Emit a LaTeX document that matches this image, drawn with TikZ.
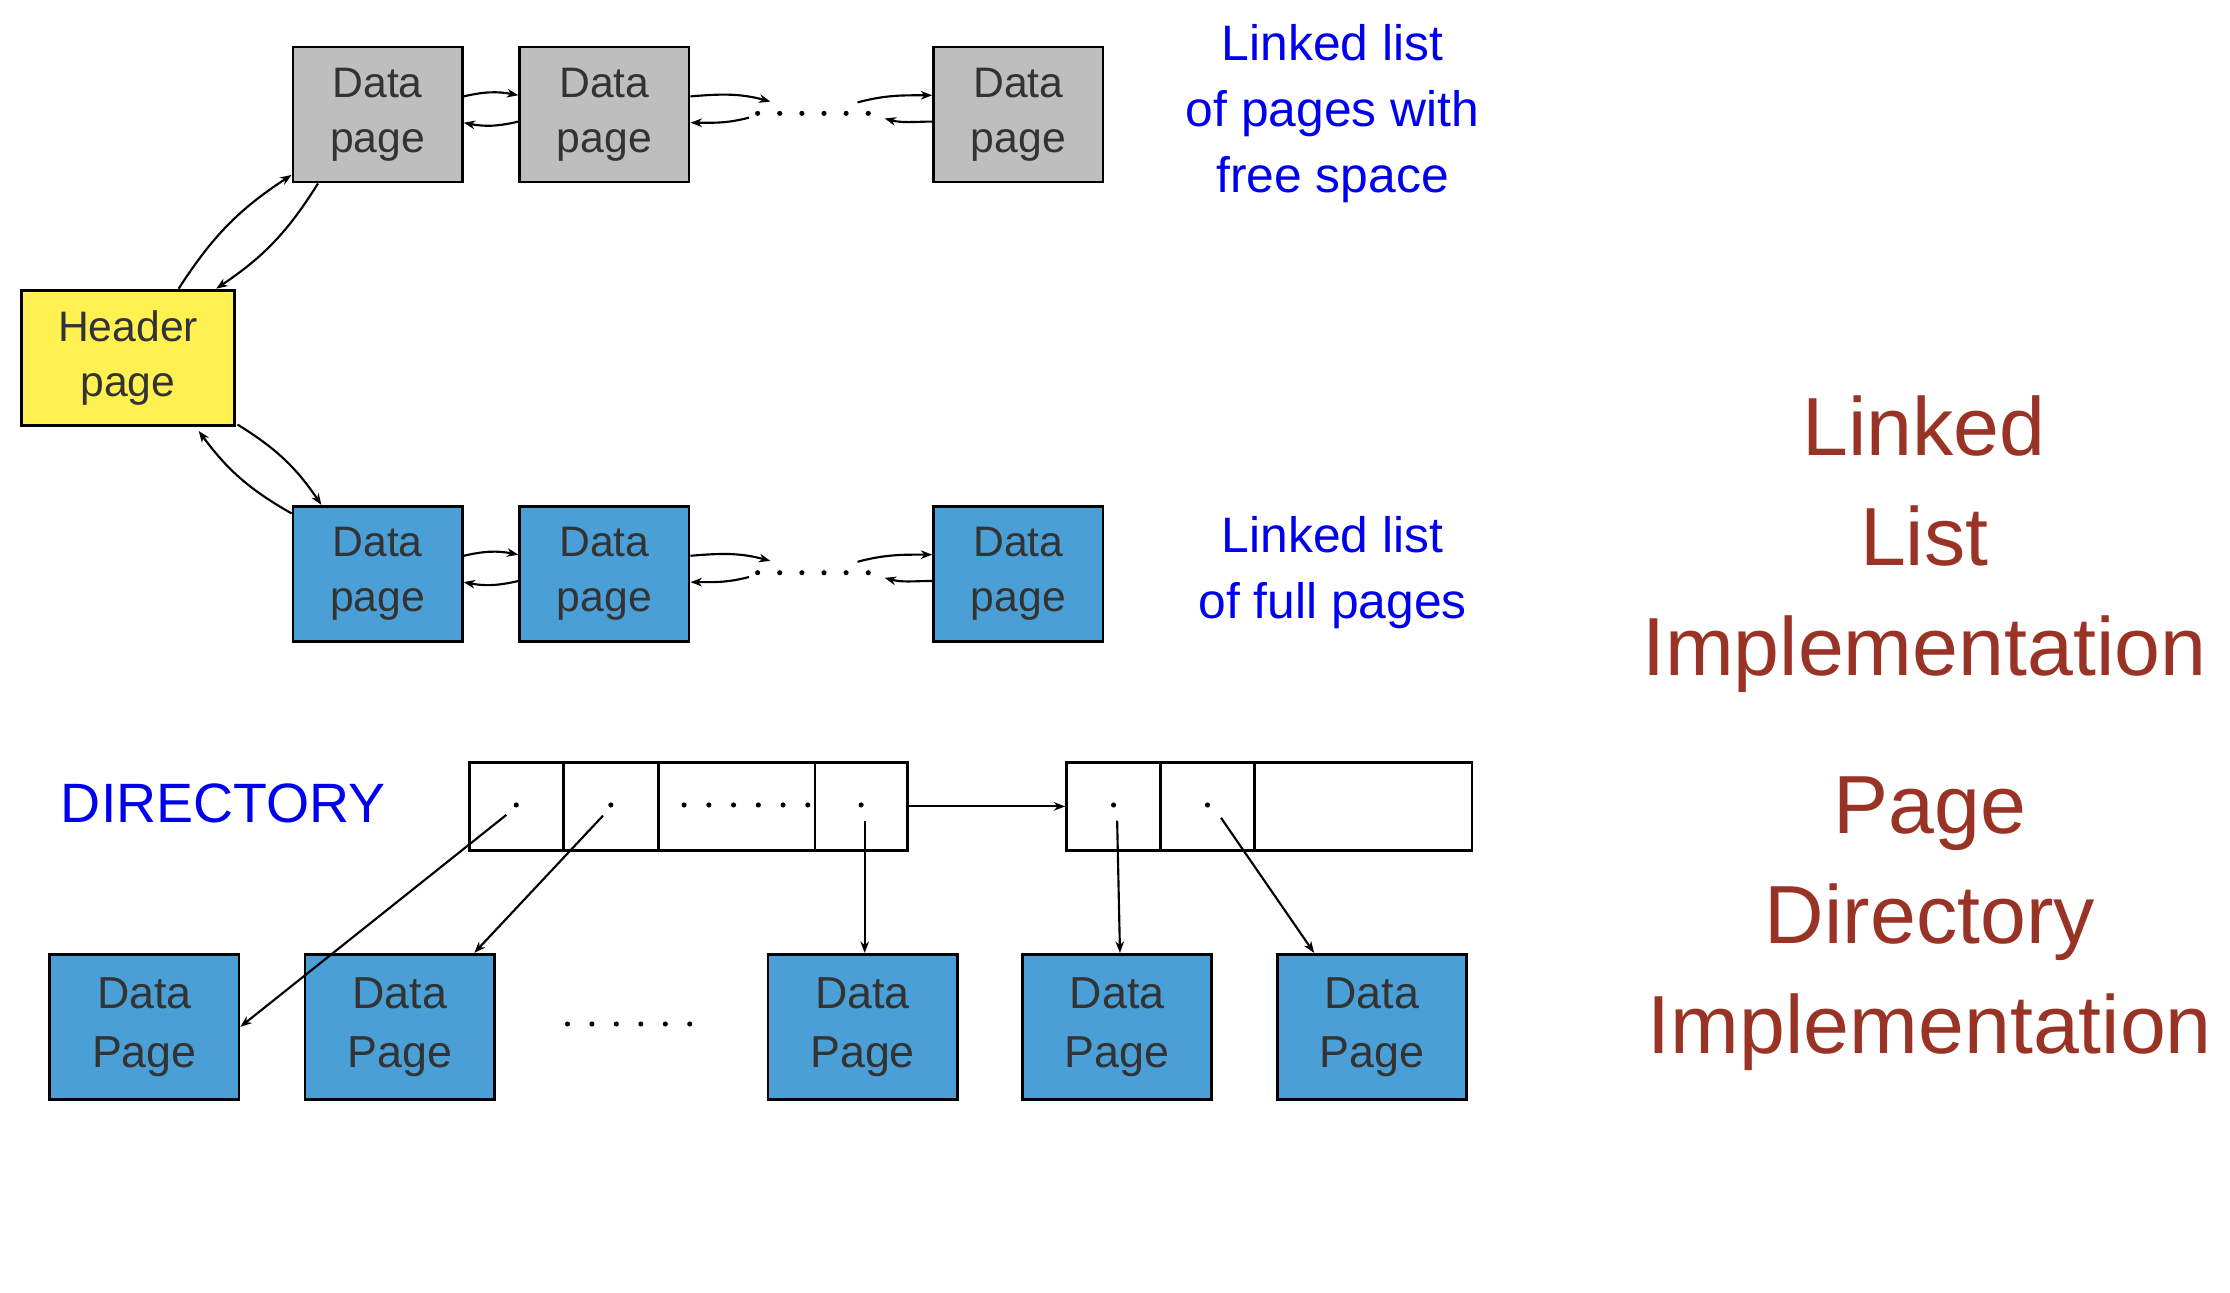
\documentclass[tikz,border=0pt]{standalone}
\usepackage{fontspec}
\setmainfont{Liberation Sans}
\usetikzlibrary{arrows.meta}
\definecolor{grayfill}{HTML}{BEBEBE}
\definecolor{yellowfill}{HTML}{FFF152}
\definecolor{bluefill}{HTML}{4A9FD6}
\definecolor{boxtext}{HTML}{333333}
\definecolor{redtext}{HTML}{993326}
\definecolor{bluetext}{HTML}{0000EE}
\begin{document}
\begin{tikzpicture}[x=1pt,y=-1pt,
  pagebox/.style={draw=black, line width=2pt, inner sep=0pt, align=center, text=boxtext,
    font=\fontsize{30}{38.5}\selectfont, minimum width=119pt, minimum height=95pt},
  grbox/.style={pagebox, fill=grayfill},
  blbox/.style={pagebox, fill=bluefill},
  hdbox/.style={pagebox, fill=yellowfill, minimum width=150pt},
  dpbox/.style={pagebox, fill=bluefill, minimum width=133pt, minimum height=102pt,
    font=\fontsize{31.5}{41.5}\selectfont},
  cell/.style={draw=black, line width=2pt, minimum height=62pt, inner sep=0pt},
  arr/.style={line width=1.5pt, -{Stealth[length=8pt,width=6pt,inset=2.5pt]}},
  dot/.style={fill=black, draw=none},
  bluelabel/.style={text=bluetext, align=center, font=\fontsize{35}{46.3}\selectfont},
  redlabel/.style={text=redtext, align=center, font=\fontsize{58}{77.5}\selectfont}
]
\useasboundingbox (0,0) rectangle (1568,908.5);

% linked list implementation
\node[hdbox] (h) at (90,251.5) {Header\\page};
\node[grbox] (g1) at (265.5,80.5) {Data\\page};
\node[grbox] (g2) at (425,80.5) {Data\\page};
\node[grbox] (g3) at (716,80.5) {Data\\page};
\node[blbox] (b1) at (265.5,403.5) {Data\\page};
\node[blbox] (b2) at (425,403.5) {Data\\page};
\node[blbox] (b3) at (716,403.5) {Data\\page};

% header connections
\draw[arr] ([xshift=35.6pt]h.north) to[bend left=12] ([yshift=6pt]g1.south west);
\draw[arr] ([xshift=18.6pt]g1.south west) to[bend left=12] ([xshift=62pt]h.north);
\draw[arr] ([shift={(1,-1.5)}]h.south east) to[bend left=12] ([xshift=21pt]b1.north west);
\draw[arr] ([yshift=-6pt]b1.north west) to[bend left=12] ([shift={(49.7,3)}]h.south);

% rows
\foreach \r/\a/\b/\c/\dy in {g/g1/g2/g3/79.7, b/b1/b2/b3/402.7}{
  \coordinate (\r dl) at (526.6,\dy+3);
  \coordinate (\r dr) at (541.7,\dy-8.3);
  \coordinate (\r el) at (603,\dy-7.7);
  \coordinate (\r er) at (622,\dy+3.6);
  \draw[arr] ([yshift=12.7pt]\a.east) to[bend left=12] ([yshift=13.5pt]\b.west);
  \draw[arr] ([yshift=-5pt]\b.west) to[bend left=12] ([yshift=-5.8pt]\a.east);
  \draw[arr] ([yshift=12.7pt]\b.east) to[out=5,in=165] (\r dr);
  \draw[arr] (\r dl) to[out=195,in=0] ([yshift=-5.8pt]\b.east);
  \draw[arr] (\r el) to[out=15,in=180] ([yshift=13.5pt]\c.west);
  \draw[arr] ([yshift=-5pt]\c.west) to[out=180,in=-15] (\r er);
  \foreach \i in {0,...,5}{ \fill[dot] (532.7+15.56*\i,\dy) circle (1.8pt); }
}

\node[bluelabel] (t1) at (937,80) {Linked list\\of pages with\\free space};
\node[bluelabel] (t2) at (937,402.7) {Linked list\\of full pages};

% page directory implementation
\node[text=bluetext, font=\fontsize{39}{46}\selectfont] (dir) at (157,565) {DIRECTORY};

\node[cell, minimum width=66pt] (d1) at (363,567) {};
\node[cell, minimum width=67pt] (d2) at (429.5,567) {};
\node[cell, minimum width=110pt] (d3) at (518,567) {};
\node[cell, minimum width=65pt] (d4) at (605.5,567) {};
\node[cell, minimum width=66pt] (e1) at (783,567) {};
\node[cell, minimum width=66pt] (e2) at (849,567) {};
\node[cell, minimum width=153pt] (e3) at (958.5,567) {};

\foreach \n in {d1,d2,d4,e1,e2}{ \fill[dot] ([yshift=1pt]\n.center) circle (1.8pt); }
\foreach \i in {0,...,5}{ \fill[dot] (481+17.4*\i,566) circle (1.8pt); }

\node[dpbox] (p1) at (101.5,722) {Data\\Page};
\node[dpbox] (p2) at (281,722) {Data\\Page};
\node[dpbox] (p3) at (606.5,722) {Data\\Page};
\node[dpbox] (p4) at (785.5,722) {Data\\Page};
\node[dpbox] (p5) at (964.5,722) {Data\\Page};
\foreach \i in {0,...,5}{ \fill[dot] (399+17.2*\i,720) circle (1.8pt); }

\draw[arr] ([shift={(-7,6)}]d1.center) -- (p1.east);
\draw[arr] ([shift={(-5.5,6.5)}]d2.center) -- ([xshift=-15pt]p2.north east);
\draw[arr] ([shift={(2.5,10)}]d4.center) -- ([xshift=1.5pt]p3.north);
\draw[arr] (d4.east) -- (e1.west);
\draw[arr] ([shift={(2.5,10)}]e1.center) -- ([xshift=2pt]p4.north);
\draw[arr] ([shift={(9.5,8)}]e2.center) -- ([xshift=27pt]p5.north west);

\node[redlabel] (r1) at (1353,382.5) {Linked\\List\\Implementation};
\node[redlabel] (r2) at (1357,649.5) {Page\\Directory\\Implementation};
\end{tikzpicture}
\end{document}
